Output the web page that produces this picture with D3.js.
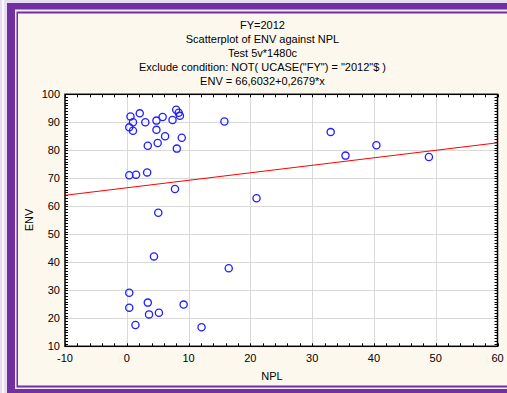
<!DOCTYPE html>
<html>
<head>
<meta charset="utf-8">
<script src="https://cdn.jsdelivr.net/npm/d3@7"></script>
<style>
  body { margin: 0; background: #fff; }
  svg { display: block; font-family: "Liberation Sans", Arial, sans-serif; }
</style>
</head>
<body>
<svg id="chart" width="507" height="393"></svg>
<script>
// title lines
const titleLines = [
  "FY=2012",
  "Scatterplot of ENV against NPL",
  "Test 5v*1480c",
  "Exclude condition: NOT( UCASE(\"FY\") = \"2012\"$ )",
  "ENV = 66,6032+0,2679*x"
];

// NPL values (x) and ENV values (y)
const npl = [0.6, 2.1, 1.0, 0.4, 1.0, 3.0, 4.8, 5.8, 4.8, 6.2,
  8.0, 8.4, 8.6, 7.4, 8.9, 5.0, 3.4, 8.1, 15.8, 0.4,
  1.5, 3.3, 7.8, 5.1, 4.4, 16.5, 0.4, 0.4, 3.4, 3.6,
  5.2, 9.2, 1.4, 12.1, 21.0, 33.0, 35.4, 40.4, 48.9];
const env = [92.1, 93.2, 90.0, 88.2, 87.0, 90.0, 90.6, 91.9, 87.3, 85.0,
  94.5, 93.4, 92.3, 90.8, 84.5, 82.6, 81.6, 80.6, 90.3, 71.1,
  71.3, 72.1, 66.2, 57.7, 42.1, 37.9, 29.1, 23.8, 25.6, 21.4,
  22.0, 24.9, 17.6, 16.8, 62.9, 86.5, 78.1, 81.8, 77.6];

const xTicks = [-10, 0, 10, 20, 30, 40, 50, 60];
const yTicks = [10, 20, 30, 40, 50, 60, 70, 80, 90, 100];

// regression line ENV = a + b*x
const intercept = 66.6032;
const slope = 0.2679;

const svg = d3.select("#chart");
const W = 507, H = 393;

// window frame
svg.append("rect").attr("x", 0).attr("y", 0).attr("width", W).attr("height", H).attr("fill", "#e6ddf1");
svg.append("rect").attr("x", 2).attr("y", 0).attr("width", 2).attr("height", H).attr("fill", "#fbf9fd");
svg.append("rect").attr("x", 7).attr("y", 3).attr("width", W - 7).attr("height", H - 3).attr("fill", "#7030a0");
svg.append("rect").attr("x", 15).attr("y", 9.5).attr("width", W - 15).attr("height", H - 9.5 - 4).attr("fill", "#f2ecf8");
svg.append("rect").attr("x", 16.5).attr("y", 11.5).attr("width", W - 16.5).attr("height", H - 11.5 - 5.5).attr("fill", "#7030a0");
svg.append("rect").attr("x", 18).attr("y", 13.5).attr("width", W - 18).attr("height", H - 13.5 - 7.5).attr("fill", "#fdf8ed");

const x = d3.scaleLinear().domain([-10, 60]).range([65, 497.5]);
const y = d3.scaleLinear().domain([10, 100]).range([346.3, 94.3]);

// title
svg.append("g")
  .selectAll("text")
  .data(titleLines)
  .join("text")
  .attr("x", 262.5)
  .attr("y", (d, i) => 29 + i * 14)
  .attr("text-anchor", "middle")
  .attr("font-size", 11)
  .attr("fill", "#000")
  .text(d => d);

// plot area
svg.append("rect")
  .attr("x", x(-10)).attr("y", y(100))
  .attr("width", x(60) - x(-10)).attr("height", y(10) - y(100))
  .attr("fill", "#fff");

// grid
const grid = svg.append("g").attr("stroke", "#d9d9d9").attr("stroke-width", 1);
grid.selectAll("line.gx")
  .data(xTicks.slice(1, -1))
  .join("line")
  .attr("x1", d => Math.round(x(d)) + 0.5).attr("x2", d => Math.round(x(d)) + 0.5)
  .attr("y1", y(100)).attr("y2", y(10));
grid.selectAll("line.gy")
  .data(yTicks.slice(1, -1))
  .join("line")
  .attr("y1", d => Math.round(y(d)) + 0.5).attr("y2", d => Math.round(y(d)) + 0.5)
  .attr("x1", x(-10)).attr("x2", x(60));

// minor ticks, inward on all four sides
const xMinor = d3.range(-10, 60.1, 2);
const yMinor = d3.range(10, 100.1, 1);
const ticks = svg.append("g").attr("stroke", "#000").attr("stroke-width", 1);
ticks.selectAll("line.bt").data(xMinor).join("line")
  .attr("x1", d => Math.round(x(d)) + 0.5).attr("x2", d => Math.round(x(d)) + 0.5)
  .attr("y1", y(10)).attr("y2", y(10) - 3);
ticks.selectAll("line.tt").data(xMinor).join("line")
  .attr("x1", d => Math.round(x(d)) + 0.5).attr("x2", d => Math.round(x(d)) + 0.5)
  .attr("y1", y(100)).attr("y2", y(100) + 3);
ticks.selectAll("line.lt").data(yMinor).join("line")
  .attr("y1", d => Math.round(y(d)) + 0.5).attr("y2", d => Math.round(y(d)) + 0.5)
  .attr("x1", x(-10)).attr("x2", x(-10) + 3);
ticks.selectAll("line.rt").data(yMinor).join("line")
  .attr("y1", d => Math.round(y(d)) + 0.5).attr("y2", d => Math.round(y(d)) + 0.5)
  .attr("x1", x(60)).attr("x2", x(60) - 3);

// regression line
svg.append("line")
  .attr("x1", x(-10)).attr("y1", y(intercept + slope * -10))
  .attr("x2", x(60)).attr("y2", y(intercept + slope * 60))
  .attr("stroke", "#ff0000").attr("stroke-width", 1);

// points
svg.append("g")
  .selectAll("circle")
  .data(npl.map((v, i) => [v, env[i]]))
  .join("circle")
  .attr("cx", d => x(d[0]))
  .attr("cy", d => y(d[1]))
  .attr("r", 3.6)
  .attr("fill", "none")
  .attr("stroke", "#1f1fff")
  .attr("stroke-width", 1.3);

// plot border
svg.append("rect")
  .attr("x", x(-10)).attr("y", y(100))
  .attr("width", x(60) - x(-10)).attr("height", y(10) - y(100))
  .attr("fill", "none").attr("stroke", "#000").attr("stroke-width", 1.5);

// tick labels
svg.append("g").selectAll("text").data(xTicks).join("text")
  .attr("x", d => x(d)).attr("y", 362)
  .attr("text-anchor", "middle").attr("font-size", 11)
  .text(d => d);
svg.append("g").selectAll("text").data(yTicks).join("text")
  .attr("x", 60).attr("y", d => y(d) + 4)
  .attr("text-anchor", "end").attr("font-size", 11)
  .text(d => d);

// axis titles
svg.append("text").attr("x", 272).attr("y", 380)
  .attr("text-anchor", "middle").attr("font-size", 11).text("NPL");
svg.append("text")
  .attr("transform", "translate(33,220) rotate(-90)")
  .attr("text-anchor", "middle").attr("font-size", 11).text("ENV");
</script>
</body>
</html>
